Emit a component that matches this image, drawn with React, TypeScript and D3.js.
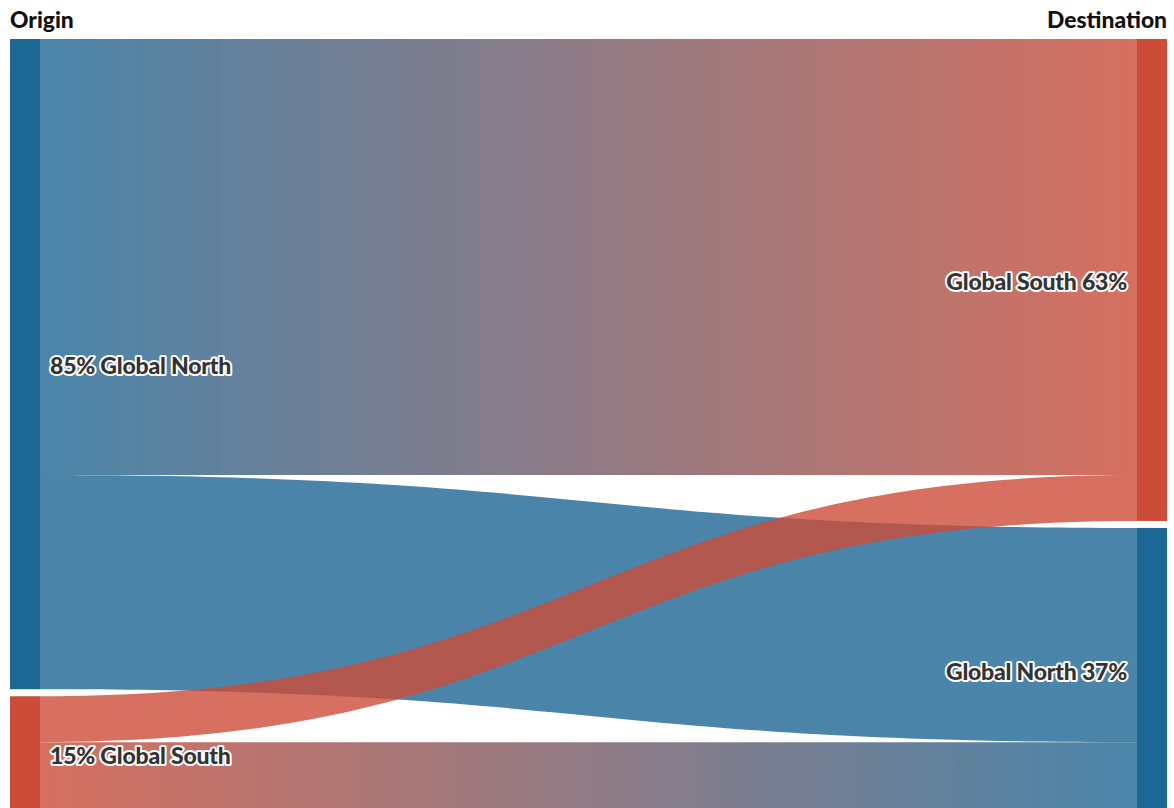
import React from "react";
import * as d3 from "d3";

const originNames = ["Global North", "Global South"];
const originValues = [85, 15];
const destNames = ["Global South", "Global North"];
const destValues = [63, 37];
// links: [originIndex, destIndex, value]
const linkSources = [0, 0, 1, 1];
const linkTargets = [0, 1, 0, 1];
const linkValues = [57, 28, 6, 9];
const colNames = ["Origin", "Destination"];

const W = 1174;
const H = 808;
const BLUE = "#1d6794";
const RED = "#cc4c38";
const colorOf = (name: string) => (name === "Global North" ? BLUE : RED);

export default function App() {
  const top = 39;
  const pad = 7;
  const nodeW = 30;
  const x = d3.scaleLinear().domain([0, 1]).range([10, 1167 - nodeW]);
  const k = d3.scaleLinear().domain([0, 100]).range([0, 765]);

  const layout = (values: number[]) => {
    let y = top;
    return values.map((v) => {
      const y0 = y;
      const y1 = y0 + k(v);
      y = y1 + pad;
      return { y0, y1 };
    });
  };
  const oNodes = layout(originValues);
  const dNodes = layout(destValues);

  const oOff = oNodes.map((n) => n.y0);
  const dOff = dNodes.map((n) => n.y0);
  const links = linkValues.map((v, i) => {
    const s = linkSources[i];
    const t = linkTargets[i];
    const h = k(v);
    const sy = oOff[s];
    const ty = dOff[t];
    oOff[s] += h;
    dOff[t] += h;
    return { s, t, sy, ty, h };
  });

  const lx0 = x(0) + nodeW;
  const lx1 = x(1);
  const xm = (lx0 + lx1) / 2;
  const linkPath = (sy: number, ty: number, h: number) => {
    const p = d3.path();
    p.moveTo(lx0, sy);
    p.bezierCurveTo(xm, sy, xm, ty, lx1, ty);
    p.lineTo(lx1, ty + h);
    p.bezierCurveTo(xm, ty + h, xm, sy + h, lx0, sy + h);
    p.closePath();
    return p.toString();
  };

  const labelStyle: React.CSSProperties = {
    fontFamily: "Lato, 'Open Sans', sans-serif",
    fontWeight: 900,
    fontSize: 23,
    fill: "#333",
    stroke: "#fff",
    strokeWidth: 4,
    paintOrder: "stroke",
    strokeLinejoin: "round",
    letterSpacing: "-0.2px",
  };
  const headStyle: React.CSSProperties = {
    fontFamily: "Lato, sans-serif",
    fontWeight: 900,
    fontSize: 22.8,
    fill: "#111",
  };

  return (
    <svg width={W} height={H} style={{ position: "absolute", left: 0, top: 0, background: "#fff" }}>
      <defs>
        {links.map((l, i) => (
          <linearGradient key={i} id={`g${i}`} gradientUnits="userSpaceOnUse" x1={lx0} x2={lx1} y1={0} y2={0}>
            <stop offset="0%" stopColor={colorOf(originNames[l.s])} />
            <stop offset="100%" stopColor={colorOf(destNames[l.t])} />
          </linearGradient>
        ))}
      </defs>
      <g>
        {links.map((l, i) => (
          <path key={i} d={linkPath(l.sy, l.ty, l.h)} fill={`url(#g${i})`} fillOpacity={0.8} />
        ))}
      </g>
      <g>
        {oNodes.map((n, i) => (
          <rect key={"o" + i} x={x(0)} y={n.y0} width={nodeW} height={n.y1 - n.y0} fill={colorOf(originNames[i])} />
        ))}
        {dNodes.map((n, i) => (
          <rect key={"d" + i} x={x(1)} y={n.y0} width={nodeW} height={n.y1 - n.y0} fill={colorOf(destNames[i])} />
        ))}
      </g>
      <g>
        {oNodes.map((n, i) => (
          <text key={"ol" + i} x={x(0) + nodeW + 10} y={(n.y0 + n.y1) / 2 + 2} dy="0.35em" style={labelStyle}>
            {`${originValues[i]}% ${originNames[i]}`}
          </text>
        ))}
        {dNodes.map((n, i) => (
          <text key={"dl" + i} x={x(1) - 10} y={(n.y0 + n.y1) / 2 + 2} dy="0.35em" textAnchor="end" style={labelStyle}>
            {`${destNames[i]} ${destValues[i]}%`}
          </text>
        ))}
      </g>
      <text x={10} y={28} style={headStyle}>
        {colNames[0]}
      </text>
      <text x={1167} y={28} textAnchor="end" style={headStyle}>
        {colNames[1]}
      </text>
    </svg>
  );
}
